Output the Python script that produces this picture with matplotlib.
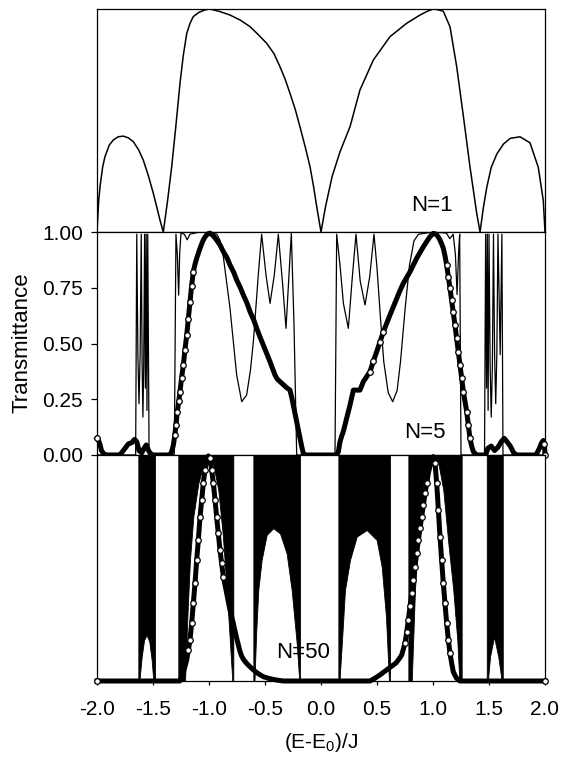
import matplotlib
matplotlib.use("Agg")
import matplotlib.pyplot as plt

plt.rcParams["font.family"] = ["Liberation Sans", "DejaVu Sans"]

# ---- N=1 (top panel) ----
x_n1 = [-2.0, -1.985, -1.973, -1.95, -1.929, -1.89, -1.854, -1.81, -1.765, -1.72,
        -1.676, -1.63, -1.587, -1.54, -1.497, -1.468, -1.438, -1.408, -1.37, -1.333,
        -1.295, -1.259, -1.23, -1.199, -1.17, -1.14, -1.09, -1.036, -0.991, -0.9,
        -0.813, -0.72, -0.634, -0.56, -0.485, -0.42, -0.366, -0.32, -0.277, -0.23,
        -0.188, -0.14, -0.098, -0.065, -0.038, 0.0, 0.04, 0.1, 0.17, 0.259,
        0.348, 0.467, 0.616, 0.765, 0.884, 0.95, 1.003, 1.05, 1.092, 1.152,
        1.212, 1.271, 1.33, 1.39, 1.42, 1.45, 1.48, 1.52, 1.57, 1.63,
        1.69, 1.777, 1.866, 1.94, 1.985, 2.0]
t_n1 = [0.0, 0.14, 0.203, 0.29, 0.338, 0.39, 0.413, 0.427, 0.43, 0.422,
        0.405, 0.37, 0.323, 0.25, 0.173, 0.115, 0.054, 0.0, 0.14, 0.293,
        0.48, 0.667, 0.79, 0.89, 0.935, 0.966, 0.985, 0.996, 1.0, 0.988,
        0.973, 0.95, 0.921, 0.885, 0.846, 0.8, 0.741, 0.685, 0.622, 0.55,
        0.472, 0.38, 0.293, 0.2, 0.113, 0.0, 0.113, 0.25, 0.36, 0.472,
        0.637, 0.771, 0.876, 0.936, 0.973, 0.99, 1.0, 0.996, 0.99, 0.92,
        0.74, 0.52, 0.293, 0.085, 0.0, 0.11, 0.2, 0.29, 0.35, 0.395,
        0.42, 0.427, 0.4, 0.29, 0.14, 0.0]

# ---- N=5 thin line (middle panel) ----
x_n5 = [-2.0, -1.655, -1.645, -1.635, -1.625, -1.615, -1.605, -1.597, -1.59, -1.583,
        -1.575, -1.568, -1.561, -1.554, -1.547, -1.535, -1.31, -1.295, -1.283, -1.271,
        -1.262, -1.25, -1.22, -1.195, -1.17, -1.1, -1.0, -0.93, -0.9, -0.872,
        -0.8125, -0.753, -0.708, -0.664, -0.63, -0.604, -0.56, -0.53, -0.491, -0.455,
        -0.417, -0.381, -0.342, -0.3125, -0.286, -0.265, -0.241, -0.217, 0.125, 0.14,
        0.17, 0.2, 0.244, 0.28, 0.3125, 0.35, 0.393, 0.435, 0.473, 0.5,
        0.53, 0.56, 0.6, 0.64, 0.68, 0.71, 0.75, 0.79, 0.83, 0.87,
        1.0, 1.12, 1.15, 1.18, 1.2, 1.215, 1.228, 1.238, 1.25, 1.46,
        1.47, 1.478, 1.485, 1.492, 1.5, 1.51, 1.52, 1.53, 1.54, 1.55,
        1.56, 1.57, 1.58, 1.6, 1.615, 1.625, 2.0]
t_n5 = [0.0, 0.0, 0.99, 0.45, 0.23, 0.45, 0.99, 0.4, 0.17, 0.4,
        0.99, 0.3, 0.99, 0.2, 0.99, 0.0, 0.0, 0.99, 0.9, 0.717,
        0.9, 0.995, 0.99, 0.965, 0.99, 0.998, 1.0, 0.99, 0.96, 0.889,
        0.658, 0.359, 0.239, 0.269, 0.38, 0.508, 0.807, 0.99, 0.807, 0.68,
        0.807, 0.99, 0.762, 0.568, 0.807, 0.994, 0.583, 0.0, 0.0, 0.99,
        0.85, 0.68, 0.568, 0.8, 0.99, 0.78, 0.673, 0.8, 0.99, 0.84,
        0.62, 0.42, 0.28, 0.239, 0.29, 0.42, 0.65, 0.85, 0.96, 0.99,
        1.0, 0.995, 0.97, 0.99, 0.9, 0.72, 0.9, 0.99, 0.0, 0.0,
        0.99, 0.3, 0.99, 0.2, 0.99, 0.4, 0.17, 0.4, 0.99, 0.45,
        0.23, 0.45, 0.99, 0.45, 0.99, 0.0, 0.0]

# ---- N=5 circles (middle panel) ----
x_n5c = [-2.0, -1.99, -1.975, -1.96, -1.94, -1.91, -1.8, -1.78, -1.75, -1.72,
         -1.69, -1.665, -1.645, -1.625, -1.6, -1.58, -1.56, -1.54, -1.52, -1.5,
         -1.35, -1.333, -1.318, -1.305, -1.295, -1.283, -1.27, -1.259, -1.245, -1.229,
         -1.215, -1.199, -1.185, -1.17, -1.155, -1.14, -1.125, -1.11, -1.095, -1.08,
         -1.065, -1.051, -1.036, -1.021, -1.006, -0.991, -0.96, -0.932, -0.9, -0.872,
         -0.84, -0.8125, -0.78, -0.753, -0.72, -0.693, -0.66, -0.634, -0.6, -0.574,
         -0.545, -0.515, -0.485, -0.455, -0.43, -0.411, -0.39, -0.366, -0.335, -0.307,
         -0.277, -0.262, -0.247, -0.232, -0.217, -0.203, -0.188, -0.173, -0.158, -0.14,
         0.14, 0.155, 0.17, 0.185, 0.199, 0.214, 0.229, 0.244, 0.259, 0.274,
         0.289, 0.32, 0.348, 0.378, 0.4375, 0.467, 0.497, 0.527, 0.557, 0.586,
         0.616, 0.646, 0.676, 0.705, 0.735, 0.765, 0.795, 0.825, 0.854, 0.884,
         0.914, 0.944, 0.973, 1.003, 1.018, 1.033, 1.048, 1.0625, 1.077, 1.092,
         1.107, 1.122, 1.137, 1.152, 1.166, 1.181, 1.196, 1.211, 1.226, 1.241,
         1.256, 1.271, 1.286, 1.301, 1.315, 1.33, 1.345, 1.36, 1.39, 1.47,
         1.49, 1.52, 1.55, 1.58, 1.61, 1.635, 1.66, 1.69, 1.72, 1.75,
         1.92, 1.95, 1.97, 1.985, 1.995, 2.0]
t_n5c = [0.075, 0.07, 0.05, 0.02, 0.005, 0.0, 0.0, 0.01, 0.03, 0.05,
         0.055, 0.07, 0.06, 0.02, 0.01, 0.03, 0.045, 0.02, 0.005, 0.0,
         0.0, 0.015, 0.045, 0.09, 0.135, 0.194, 0.24, 0.284, 0.345, 0.404,
         0.47, 0.538, 0.61, 0.688, 0.76, 0.822, 0.855, 0.882, 0.905, 0.927,
         0.947, 0.964, 0.977, 0.987, 0.993, 0.995, 0.982, 0.964, 0.94, 0.912,
         0.885, 0.852, 0.82, 0.785, 0.75, 0.717, 0.68, 0.643, 0.605, 0.568,
         0.53, 0.493, 0.455, 0.418, 0.385, 0.359, 0.34, 0.329, 0.315, 0.302,
         0.291, 0.26, 0.224, 0.186, 0.149, 0.112, 0.075, 0.04, 0.007, 0.0,
         0.0, 0.015, 0.06, 0.085, 0.105, 0.135, 0.164, 0.194, 0.224, 0.258,
         0.291, 0.291, 0.291, 0.329, 0.374, 0.42, 0.463, 0.508, 0.553, 0.59,
         0.628, 0.665, 0.703, 0.737, 0.77, 0.796, 0.822, 0.852, 0.882, 0.908,
         0.934, 0.957, 0.979, 0.994, 0.992, 0.987, 0.977, 0.964, 0.947, 0.927,
         0.893, 0.852, 0.8, 0.747, 0.695, 0.643, 0.583, 0.523, 0.463, 0.404,
         0.344, 0.284, 0.239, 0.194, 0.135, 0.075, 0.04, 0.015, 0.0, 0.0,
         0.03, 0.04, 0.02, 0.035, 0.06, 0.075, 0.06, 0.04, 0.01, 0.0,
         0.0, 0.03, 0.055, 0.065, 0.05, 0.0]

# ---- N=50 circles (bottom panel) ----
x_n50c = [-2.0, -1.26, -1.245, -1.229, -1.214, -1.199, -1.185, -1.17, -1.155, -1.14,
          -1.125, -1.11, -1.095, -1.08, -1.065, -1.051, -1.036, -1.021, -1.006, -0.991,
          -0.976, -0.961, -0.946, -0.932, -0.917, -0.902, -0.887, -0.872, -0.857, -0.842,
          -0.827, -0.8125, -0.798, -0.783, -0.768, -0.753, -0.738, -0.723, -0.708, -0.693,
          -0.664, -0.64, -0.619, -0.595, -0.574, -0.545, -0.515, -0.47, -0.426, -0.38,
          -0.336, 0.4375, 0.48, 0.527, 0.556, 0.586, 0.616, 0.646, 0.67, 0.69,
          0.705, 0.72, 0.735, 0.75, 0.765, 0.78, 0.795, 0.81, 0.825, 0.839,
          0.854, 0.869, 0.884, 0.899, 0.914, 0.929, 0.944, 0.958, 0.973, 0.988,
          1.003, 1.018, 1.033, 1.048, 1.0625, 1.077, 1.092, 1.107, 1.122, 1.137,
          1.152, 1.167, 1.181, 1.196, 1.211, 1.241, 2.0]
t_n50c = [0.0, 0.0, 0.02, 0.041, 0.065, 0.093, 0.135, 0.181, 0.255, 0.344,
          0.432, 0.536, 0.624, 0.727, 0.801, 0.875, 0.934, 0.978, 0.996, 0.985,
          0.934, 0.875, 0.801, 0.727, 0.653, 0.58, 0.52, 0.462, 0.425, 0.388,
          0.35, 0.314, 0.285, 0.255, 0.222, 0.189, 0.16, 0.13, 0.11, 0.096,
          0.078, 0.066, 0.056, 0.046, 0.037, 0.028, 0.019, 0.012, 0.007, 0.003,
          0.0, 0.0, 0.012, 0.027, 0.038, 0.049, 0.06, 0.071, 0.08, 0.093,
          0.103, 0.115, 0.14, 0.167, 0.215, 0.27, 0.33, 0.388, 0.447, 0.506,
          0.565, 0.624, 0.676, 0.727, 0.78, 0.83, 0.875, 0.919, 0.95, 0.978,
          0.993, 0.963, 0.875, 0.757, 0.639, 0.536, 0.432, 0.344, 0.255, 0.181,
          0.122, 0.078, 0.041, 0.025, 0.012, 0.0, 0.0]

# ---- N=50 dense oscillation bands: lower envelope (upper bound is 1) ----
band1_x = [-1.631, -1.622, -1.601, -1.58, -1.557, -1.533, -1.512, -1.497, -1.482]
band1_env = [0.0, 0.0, 0.107, 0.181, 0.204, 0.174, 0.093, 0.0, 0.0]
band2_x = [-1.274, -1.214, -1.193, -1.17, -1.14, -1.095, -1.051, -1.006, -0.961,
           -0.917, -0.878, -0.842, -0.8125, -0.792, -0.783]
band2_env = [0.0, 0.0, 0.286, 0.536, 0.727, 0.875, 0.956, 1.0, 0.956,
             0.845, 0.653, 0.403, 0.167, 0.0, 0.0]
band3_x = [-0.604, -0.594, -0.58, -0.56, -0.53, -0.485, -0.426, -0.366, -0.307,
           -0.262, -0.217, -0.194, -0.1875]
band3_env = [0.0, 0.0, 0.2, 0.403, 0.536, 0.647, 0.676, 0.653, 0.565,
             0.403, 0.167, 0.0, 0.0]
band4_x = [0.155, 0.165, 0.19, 0.214, 0.259, 0.319, 0.408, 0.497, 0.542, 0.58, 0.607, 0.616]
band4_env = [0.0, 0.0, 0.2, 0.403, 0.536, 0.639, 0.668, 0.624, 0.506, 0.286, 0.0, 0.0]
band5_x = [0.78, 0.81, 0.839, 0.869, 0.914, 0.958, 1.003, 1.048, 1.092, 1.137,
           1.181, 1.217, 1.235, 1.256]
band5_env = [0.0, 0.0, 0.403, 0.653, 0.875, 0.963, 1.0, 0.963, 0.845, 0.609,
             0.403, 0.181, 0.0, 0.0]
band6_x = [1.48, 1.49, 1.509, 1.545, 1.583, 1.613, 1.623]
band6_env = [0.0, 0.0, 0.107, 0.196, 0.107, 0.0, 0.0]

x_ticks = [-2.0, -1.5, -1.0, -0.5, 0.0, 0.5, 1.0, 1.5, 2.0]
x_ticklabels = ["-2.0", "-1.5", "-1.0", "-0.5", "0.0", "0.5", "1.0", "1.5", "2.0"]
y_ticks = [0.0, 0.25, 0.5, 0.75, 1.0]
y_ticklabels = ["0.00", "0.25", "0.50", "0.75", "1.00"]


def steep_points(y, thr=0.045):
    # circles show up individually only where the curve is steep
    idx = [0, len(y) - 1]
    for i in range(1, len(y) - 1):
        if max(abs(y[i] - y[i - 1]), abs(y[i + 1] - y[i])) > thr:
            idx.append(i)
    return sorted(set(idx))


W, H = 567, 770
fig = plt.figure(figsize=(W / 100, H / 100), dpi=100)
left, width = 97 / W, 448 / W
ax1 = fig.add_axes([left, 1 - 232 / H, width, 223 / H])
ax2 = fig.add_axes([left, 1 - 455 / H, width, 223 / H])
ax3 = fig.add_axes([left, 1 - 681 / H, width, 226 / H])

circle_style = dict(color="black", lw=3.6, marker="o", ms=4.0, mfc="white",
                    mec="black", mew=0.9, clip_on=False, zorder=4)

ax1.plot(x_n1, t_n1, color="black", lw=1.1)
ax1.text(0.99, 0.12, "N=1", ha="center", va="center", fontsize=16)

ax2.plot(x_n5, t_n5, color="black", lw=0.9, zorder=3)
ax2.plot(x_n5c, t_n5c, markevery=steep_points(t_n5c), **circle_style)
ax2.text(0.93, 0.10, "N=5", ha="center", va="center", fontsize=16, zorder=5)

bands = [(band1_x, band1_env), (band2_x, band2_env), (band3_x, band3_env),
         (band4_x, band4_env), (band5_x, band5_env), (band6_x, band6_env)]
for bx, benv in bands:
    ax3.fill_between(bx, benv, 1, color="black", lw=0.6, zorder=2)
ax3.plot(x_n50c, t_n50c, markevery=steep_points(t_n50c), **circle_style)
ax3.text(-0.16, 0.124, "N=50", ha="center", va="center", fontsize=16, zorder=5)

for ax in (ax1, ax2, ax3):
    ax.set_xlim(-2, 2)
    ax.set_ylim(0, 1)
    for sp in ax.spines.values():
        sp.set_linewidth(0.9)
    ax.set_xticks([])
    ax.set_yticks([])

ax2.set_yticks(y_ticks)
ax2.set_yticklabels(y_ticklabels)
ax2.tick_params(axis="y", direction="out", length=4, width=0.9, pad=6, labelsize=15)

ax3.set_xticks(x_ticks)
ax3.set_xticklabels(x_ticklabels)
ax3.tick_params(axis="x", direction="out", length=3, width=0.9, pad=11, labelsize=15)

fig.text(22 / W, 1 - 343 / H, "Transmittance", rotation=90, ha="center", va="center", fontsize=16)
fig.text(321 / W, 1 - 742 / H, r"(E-E$_\mathregular{0}$)/J", ha="center", va="center", fontsize=15)

fig.savefig("out.png", dpi=100)
